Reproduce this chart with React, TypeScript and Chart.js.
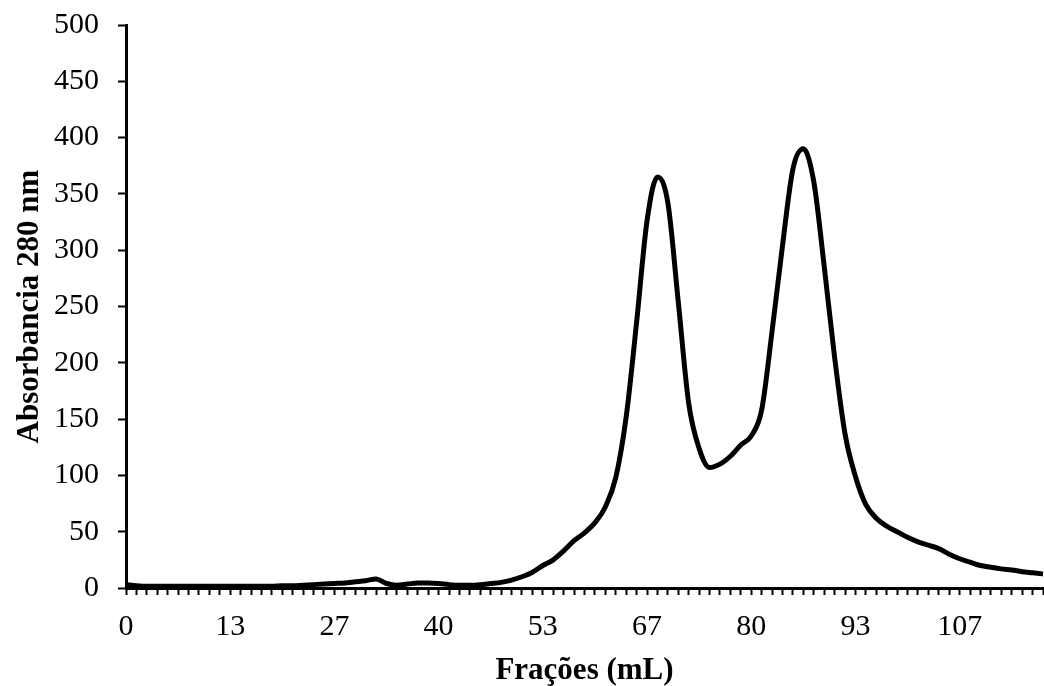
import React, { useEffect, useRef } from "react";
import { Chart, registerables } from "chart.js";

Chart.register(...registerables);

// Fraction volumes (mL) along the elution: one reading every 4/3 mL
const FRACTION_STEP = 4 / 3;
const FRACTION_COUNT = 89;
const fractions: number[] = Array.from({ length: FRACTION_COUNT }, (_, i) => i * FRACTION_STEP);

// Only every 10th fraction carries a printed label
const LABEL_EVERY = 10;

// Absorbance at 280 nm for each fraction
const absorbance: number[] = [
  3, 2, 1.5, 1.5, 1.5, 1.5, 1.5, 1.5, 1.5, 1.5,
  1.5, 1.5, 1.5, 1.5, 1.5, 2, 2, 2.5, 3, 3.5,
  4, 4.5, 5.5, 6.5, 8, 4, 2.5, 3.5, 4.5, 4.5,
  4, 3, 2.5, 2.5, 3, 4, 5, 7, 10, 14,
  20, 25, 33, 42, 49, 58, 72, 98, 152, 236,
  326, 365, 342, 254, 164, 124, 107, 110, 117, 127,
  135, 158, 228, 304, 372, 390, 361, 286, 205, 137,
  99, 74, 62, 55, 50, 45, 41, 38, 35, 30,
  26, 23, 20, 18.5, 17, 16, 14.5, 13.5, 12.5,
];

// Y axis range
const Y_MIN = 0;
const Y_MAX = 500;
const Y_STEP = 50;

const X_TITLE = "Frações (mL)";
const Y_TITLE = "Absorbancia 280 nm";

const SERIF = '"Liberation Serif", "Times New Roman", serif';

export default function App() {
  const canvasRef = useRef<HTMLCanvasElement | null>(null);

  useEffect(() => {
    const canvas = canvasRef.current;
    if (!canvas) return;

    const chart = new Chart(canvas, {
      type: "line",
      data: {
        labels: fractions.map((f) => String(Math.round(f))),
        datasets: [
          {
            data: absorbance,
            borderColor: "#000000",
            borderWidth: 5,
            pointRadius: 0,
            fill: false,
            cubicInterpolationMode: "monotone",
          },
        ],
      },
      options: {
        responsive: false,
        animation: false,
        layout: { padding: { top: 25, right: 1, bottom: 0, left: 0 } },
        plugins: {
          legend: { display: false },
          tooltip: { enabled: false },
        },
        scales: {
          x: {
            type: "category",
            offset: false,
            grid: {
              display: true,
              drawOnChartArea: false,
              drawTicks: true,
              tickLength: 7,
              tickWidth: 2,
              tickColor: "#000000",
            },
            border: { display: true, color: "#000000", width: 3 },
            ticks: {
              autoSkip: false,
              maxRotation: 0,
              minRotation: 0,
              padding: 14,
              color: "#000000",
              font: { family: SERIF, size: 30 },
              callback: (_v: any, idx: number) =>
                idx % LABEL_EVERY === 0 ? String(Math.round(fractions[idx])) : "",
            },
            title: {
              display: true,
              text: X_TITLE,
              color: "#000000",
              font: { family: SERIF, size: 31, weight: "bold", lineHeight: 1 },
              padding: { top: 0, bottom: 0 },
            },
            afterFit: (scale: any) => {
              scale.height = 98;
              scale.paddingLeft = 0;
              scale.paddingRight = 0;
            },
          },
          y: {
            min: Y_MIN,
            max: Y_MAX,
            grid: {
              display: true,
              drawOnChartArea: false,
              drawTicks: true,
              tickLength: 8,
              tickWidth: 2,
              tickColor: "#000000",
            },
            border: { display: true, color: "#000000", width: 3 },
            ticks: {
              stepSize: Y_STEP,
              padding: 19,
              color: "#000000",
              font: { family: SERIF, size: 30 },
            },
            title: {
              display: true,
              text: Y_TITLE,
              color: "#000000",
              font: { family: SERIF, size: 31, weight: "bold", lineHeight: 1.2 },
              padding: { top: 11, bottom: 0 },
            },
            afterFit: (scale: any) => {
              scale.width = 126;
              scale.paddingTop = 0;
              scale.paddingBottom = 0;
            },
          },
        },
      },
    });

    return () => chart.destroy();
  }, []);

  return (
    <div style={{ position: "absolute", left: 0, top: 0, width: 1044, height: 686, background: "#ffffff" }}>
      <canvas ref={canvasRef} width={1044} height={686} />
    </div>
  );
}
